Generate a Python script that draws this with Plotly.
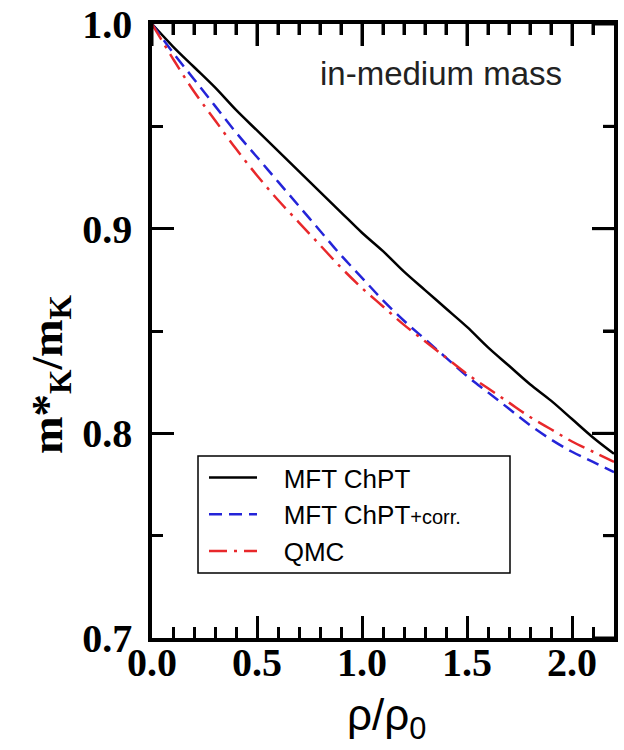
import plotly.graph_objects as go

rho = [0.0, 0.1, 0.2, 0.3, 0.4, 0.5, 0.6, 0.7, 0.8, 0.9, 1.0, 1.1,
       1.2, 1.3, 1.4, 1.5, 1.6, 1.7, 1.8, 1.9, 2.0, 2.1, 2.2]
mft_chpt = [1.000, 0.989, 0.979, 0.969, 0.958, 0.948, 0.938, 0.928, 0.918, 0.908, 0.898, 0.889,
            0.879, 0.870, 0.861, 0.852, 0.842, 0.833, 0.824, 0.816, 0.807, 0.798, 0.790]
mft_chpt_corr = [1.000, 0.986, 0.973, 0.960, 0.947, 0.935, 0.923, 0.911, 0.899, 0.887, 0.876, 0.865,
                 0.855, 0.846, 0.837, 0.828, 0.820, 0.812, 0.804, 0.797, 0.791, 0.786, 0.781]
qmc = [1.000, 0.983, 0.967, 0.953, 0.939, 0.926, 0.914, 0.903, 0.892, 0.881, 0.871, 0.862,
       0.853, 0.845, 0.837, 0.829, 0.822, 0.815, 0.808, 0.802, 0.796, 0.791, 0.786]

NB = "\u00a0\u00a0\u00a0"
names = [NB + "MFT ChPT", NB + "MFT ChPT<span style='font-size:20px'>+corr.</span>", NB + "QMC"]
x_ticks = [0.0, 0.5, 1.0, 1.5, 2.0]
x_ticklabels = ["0.0", "0.5", "1.0", "1.5", "2.0"]
x_minor_ticks = [0.1, 0.2, 0.3, 0.4, 0.6, 0.7, 0.8, 0.9, 1.1, 1.2, 1.3, 1.4,
                 1.6, 1.7, 1.8, 1.9, 2.1]
y_ticks = [0.7, 0.8, 0.9, 1.0]
y_ticklabels = ["0.7", "0.8", "0.9", "1.0"]
y_minor_ticks = [0.75, 0.85, 0.95]

W, H = 624, 750
L, R, T, B = 152, 10, 24, 112
pw, ph = W - L - R, H - T - B
MAJ, MIN = 22, 11

def px_x(p):
    return (p - L) / pw

def px_y(p):
    return (H - B - p) / ph

fig = go.Figure()
fig.add_trace(go.Scatter(x=rho, y=mft_chpt, mode="lines", name=names[0],
                         line=dict(color="black", width=2.5, shape="spline")))
fig.add_trace(go.Scatter(x=rho, y=mft_chpt_corr, mode="lines", name=names[1],
                         line=dict(color="#2424d8", width=2.5, dash="13px,7px", shape="spline")))
fig.add_trace(go.Scatter(x=rho, y=qmc, mode="lines", name=names[2],
                         line=dict(color="#e8282b", width=2.5, dash="18px,7px,3px,7px", shape="spline")))

tickfont = dict(family="Liberation Serif", size=40, color="black", weight="bold")
minor_x = dict(ticks="inside", ticklen=MIN, tickwidth=3, tickcolor="black",
               tickvals=x_minor_ticks, showgrid=False)
minor_y = dict(ticks="inside", ticklen=MIN, tickwidth=3, tickcolor="black",
               tickvals=y_minor_ticks, showgrid=False)

fig.update_layout(
    xaxis=dict(range=[0, 2.2], tickvals=x_ticks, ticktext=x_ticklabels,
               showline=True, linecolor="black", linewidth=3.5, mirror="ticks",
               showgrid=False, zeroline=False, tickfont=tickfont,
               ticks="inside", ticklen=MAJ, tickwidth=3, tickcolor="black",
               minor=minor_x, ticklabelstandoff=-14),
    yaxis=dict(range=[0.7, 1.0], tickvals=y_ticks, ticktext=y_ticklabels,
               showline=True, linecolor="black", linewidth=3.5, mirror="ticks",
               showgrid=False, zeroline=False, tickfont=tickfont,
               ticks="inside", ticklen=MAJ, tickwidth=3, tickcolor="black",
               minor=minor_y, ticklabelstandoff=8),
)

# mirrored ticks on the top and right frame edges, placed with the axes' own scales
tick_line = dict(color="black", width=3)
for v in x_ticks + x_minor_ticks:
    ln = MAJ if v in x_ticks else MIN
    fig.add_shape(type="line", xref="x", yref="paper", x0=v, x1=v,
                  y0=1, y1=1 - ln / ph, line=tick_line)
for v in y_ticks + y_minor_ticks:
    ln = MAJ if v in y_ticks else MIN
    fig.add_shape(type="line", xref="paper", yref="y", y0=v, y1=v,
                  x0=1, x1=1 - ln / pw, line=tick_line)

fig.add_shape(type="rect", xref="paper", yref="paper",
              x0=px_x(198), x1=px_x(510), y0=px_y(573), y1=px_y(456),
              line=dict(color="black", width=1.5), fillcolor="white", layer="below")

fig.add_annotation(text="in-medium mass", xref="paper", yref="paper",
                   x=px_x(441), y=px_y(73), xanchor="center", yanchor="middle",
                   showarrow=False, font=dict(family="Liberation Sans", size=33, color="#222222"))
fig.add_annotation(text="m*<sub>K</sub>/m<sub>K</sub>", xref="paper", yref="paper",
                   x=px_x(50), y=px_y(374), xanchor="center", yanchor="middle", textangle=-90,
                   showarrow=False,
                   font=dict(family="Liberation Serif", size=45, color="black", weight="bold"))
fig.add_annotation(text="ρ/ρ<sub>0</sub>", xref="paper", yref="paper",
                   x=px_x(386), y=px_y(718), xanchor="center", yanchor="middle",
                   showarrow=False, font=dict(family="Liberation Sans", size=44, color="black"))

fig.update_layout(
    width=W, height=H, margin=dict(l=L, r=R, t=T, b=B, autoexpand=False),
    paper_bgcolor="white", plot_bgcolor="white",
    legend=dict(x=px_x(204), y=px_y(454), xanchor="left", yanchor="top",
                bgcolor="rgba(0,0,0,0)", borderwidth=0,
                font=dict(family="Liberation Sans", size=26, color="black"),
                itemwidth=48, tracegroupgap=0),
    showlegend=True,
)

fig.write_html("out.html")
